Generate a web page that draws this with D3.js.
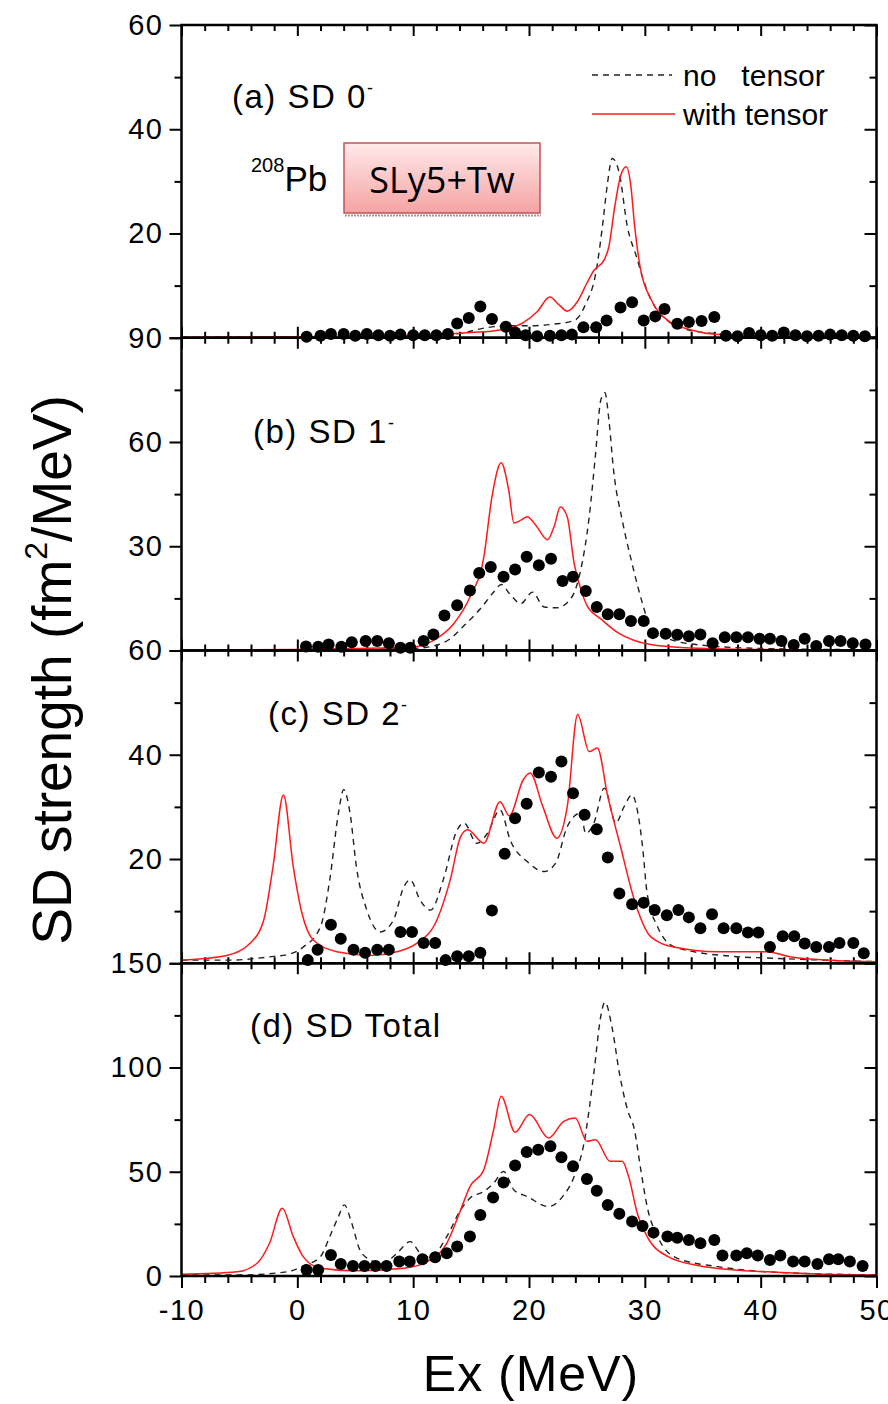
<!DOCTYPE html>
<html>
<head>
<meta charset="utf-8">
<script src="https://cdn.jsdelivr.net/npm/d3@7"></script>
<style>
  body { margin: 0; background: #fff; }
  text { font-family: "Liberation Sans", Arial, sans-serif; fill: #000; }
</style>
</head>
<body>
<script>
// x axis ticks (MeV)
let xMajor = [-10, 0, 10, 20, 30, 40, 50]
let xMinor = [-8, -6, -4, -2, 2, 4, 6, 8, 12, 14, 16, 18, 22, 24, 26, 28, 32, 34, 36, 38, 42, 44, 46, 48]

// (a) SD 0-
let redA = [[-10,0.1],[0,0.2],[10,0.4],[13,0.7],[15,1.0],[17.5,1.5],[19.5,2.9],[20.7,5.0],[21.8,7.8],[22.6,6.3],[23.3,5.1],[24.2,7.0],[25,10.5],[25.6,12.9],[26.5,15.0],[26.9,17.5],[27.4,25.1],[27.9,31.0],[28.4,32.8],[28.8,29.0],[29.1,21.9],[29.6,13.5],[30.6,7.1],[32,3.3],[34,1.5],[36.3,0.6],[40,0.3],[50,0.1]]
let dashA = [[-10,0.1],[0,0.2],[10,0.3],[14,0.8],[16,1.8],[18,2.3],[20,2.3],[22.1,2.6],[23.9,3.3],[24.9,6.5],[25.75,12.2],[26.4,22.5],[26.7,28.3],[27.2,34.4],[27.8,31.5],[28.5,21.2],[29.2,16.1],[30.2,9.0],[30.9,5.8],[32,3.2],[33,2.0],[36,0.8],[40,0.3],[50,0.1]]
let dotsA = [[0.8,0.2],[2,0.4],[2.9,0.7],[4,0.7],[5,0.4],[6,0.7],[7,0.5],[8,0.4],[8.9,0.6],[10,0.5],[11,0.5],[12,0.5],[13,0.7],[13.8,2.75],[14.8,3.8],[15.8,6.0],[16.8,3.6],[18,2.1],[18.8,1.0],[19.7,0.5],[20.7,0.3],[21.8,0.4],[22.8,0.5],[23.7,0.6],[24.7,2.0],[25.8,2.0],[26.7,3.3],[27.9,5.8],[28.9,6.8],[29.9,3.3],[30.9,4.1],[31.7,5.5],[32.8,2.7],[33.8,3.0],[34.9,3.2],[36,4.0],[37,0.4],[38,0.3],[39,0.9],[40,0.5],[41,0.4],[42,1.0],[43,0.5],[44,0.3],[45,0.4],[46,0.6],[47,0.5],[48,0.4],[49,0.3]]

// (b) SD 1-
let redB = [[-10,0.1],[0,0.3],[10,1.0],[11.75,2.9],[13.5,7.7],[14.9,15.4],[16.1,26.9],[16.8,44.2],[17.6,54],[18.25,46.1],[18.7,36.7],[19.3,37.5],[19.85,38.5],[20.6,36],[21.6,31.9],[22.2,36],[22.7,41.3],[23.3,38.5],[23.9,25],[24.5,17.3],[25,13],[26.2,9.1],[27.6,5.3],[29.1,2.9],[30.5,1.7],[33.4,0.8],[40,0.3],[50,0.1]]
let dashB = [[-10,0.1],[0,0.2],[10,0.6],[12,1.5],[13.2,3.4],[14.4,7.2],[15.8,12],[17,17],[17.6,19],[18.4,16],[19.3,13.5],[20.3,16.8],[21.3,12.5],[22.4,12.3],[23.7,15.4],[24.45,23],[25.2,38.5],[25.75,56.7],[26.2,72.1],[26.55,74.2],[26.9,66.3],[27.3,51.9],[28.05,37.5],[28.9,25],[29.8,13.5],[30.5,6.7],[32,3.4],[35,1.5],[40,0.6],[50,0.2]]
let dotsB = [[0.75,1.15],[1.8,1.1],[2.7,1.7],[3.8,1.1],[4.7,2.4],[5.9,2.7],[6.9,2.7],[7.9,2.1],[8.9,0.8],[9.75,0.8],[10.9,2.7],[11.75,4.6],[12.7,10.1],[13.8,13],[14.9,17.3],[15.7,22.3],[16.7,24],[17.8,21.2],[18.8,23.3],[19.8,27],[20.85,24.5],[21.9,26.4],[22.9,20],[23.8,21.2],[24.9,17.1],[25.85,12.5],[26.8,10.4],[27.8,10.4],[28.8,8.5],[29.9,8.5],[30.7,5.0],[31.8,4.8],[32.8,4.5],[33.8,4.1],[34.8,4.6],[35.85,2.1],[36.9,3.8],[37.9,3.8],[38.9,3.8],[39.9,3.4],[40.8,3.4],[41.8,2.7],[42.85,1.6],[43.8,3.4],[44.8,1.3],[45.9,2.7],[46.9,2.7],[47.95,2.1],[49.05,1.7]]

// (c) SD 2-
let redC = [[-10,0.6],[-6.1,1.5],[-4.1,3.8],[-2.9,8.3],[-2.1,18.5],[-1.2,32.3],[-0.35,18.5],[0.4,9.6],[1.4,4.4],[3.4,2.2],[6.3,1.5],[8.6,2.2],[10.3,3.8],[12.05,8.3],[13.2,16],[14.1,24.3],[14.7,25.6],[16.1,23],[17.5,31],[18.3,28.3],[19.5,35.2],[20.1,36.5],[21.2,30],[22.4,24],[23.3,30],[24.2,47.7],[25.2,40.6],[25.9,41.3],[26.8,32],[27.9,22.4],[29.1,12.1],[30.5,5.1],[32.5,3.1],[36.3,2.2],[40.6,2.2],[42.4,1.3],[46.6,0.5],[50,0.3]]
let dashC = [[-10,0.6],[-6,0.6],[-2.5,1.2],[-0.6,1.8],[0.5,3.1],[2,7],[2.8,16],[3.55,28.8],[4,33.3],[4.55,28.8],[5.1,18.5],[6,10.2],[7.15,6],[8.3,8.3],[9.2,14.7],[9.75,16],[10.6,12.1],[11.5,10.2],[12.6,16],[13.8,25.6],[14.4,26.9],[15.5,23],[16.4,24.9],[17.5,29.4],[18.4,23.5],[19.85,19.5],[21.3,17.6],[22.3,19.2],[23.3,26.2],[24.45,28.8],[24.9,24.9],[25.6,26.9],[26.5,33.6],[27.5,26.9],[28.2,30],[28.9,32.3],[29.4,28.8],[29.8,22.4],[30.2,13.4],[31.1,7],[32.6,3.1],[37.7,1.3],[40.6,1],[50,0.3]]
let dotsC = [[0.9,0.6],[1.75,2.6],[2.9,7.4],[3.75,4.7],[4.85,2.6],[5.85,2.0],[6.9,2.6],[7.9,2.6],[8.9,6.0],[9.9,6.0],[10.9,3.9],[11.9,3.9],[12.8,0.6],[13.8,1.35],[14.8,1.35],[15.8,2.0],[16.8,10.1],[17.9,21],[18.8,27.8],[19.8,30.6],[20.85,36.6],[21.9,35.8],[22.8,38.7],[23.8,32.6],[24.8,28.5],[25.85,25.7],[26.8,20.3],[27.8,13.4],[28.9,11.3],[29.9,11.6],[30.85,10.2],[31.9,9.2],[32.9,10.2],[33.8,8.8],[34.8,6.7],[35.8,9.4],[36.8,6.7],[37.9,6.7],[38.9,5.9],[39.8,5.9],[40.8,3.1],[41.9,5.2],[42.9,5.2],[43.8,3.8],[44.8,3.1],[45.9,3.1],[46.8,3.9],[48,3.9],[48.9,1.9]]

// (d) SD Total
let redD = [[-10,0.8],[-5.2,2],[-3.5,6],[-2.4,15.7],[-1.3,32.5],[-0.35,18.9],[0.5,9.3],[2,3.7],[5,2.5],[9.2,3.7],[11.5,7.7],[12.9,15.7],[14.1,31.7],[14.9,42.9],[16.1,51],[16.95,70.2],[17.6,86.2],[18.8,68.9],[20.05,77.4],[21.7,66.2],[23,74.2],[24,75.8],[25,64.6],[25.75,65.4],[27,55],[28.05,55],[28.6,47.7],[29.35,30.1],[30.2,18.9],[32,9.3],[34.8,4.8],[37.7,2.9],[40.6,2],[44.9,1],[50,0.5]]
let dashD = [[-10,0.5],[-5,0.5],[-0.9,2],[0.5,4.8],[2,9.3],[2.8,18.9],[3.55,28.5],[4.05,34.1],[4.7,25.3],[5.4,12.5],[6.3,7.7],[7.4,6],[8.6,10.9],[9.75,16.5],[10.6,11],[11.5,9],[12.9,18.9],[14.1,31.7],[14.9,37.3],[16.1,40.5],[16.95,44.5],[17.8,50.1],[18.7,41.3],[19.85,38.1],[21.7,33.3],[22.9,38.1],[23.9,47.7],[24.75,63.8],[25.6,97.4],[26.2,124.7],[26.55,131.4],[27.2,118.3],[27.8,97.4],[28.5,79.8],[29.1,70.2],[29.65,51],[30.2,33.3],[31.1,18.9],[32.8,8.5],[36.3,4.5],[40.6,2],[50,0.5]]
let dotsD = [[0.8,2.9],[1.8,2.9],[2.9,10.1],[3.75,5.8],[4.8,4.8],[5.8,4.8],[6.75,4.8],[7.7,4.8],[8.8,6.9],[9.7,6.9],[10.8,8],[11.9,9],[12.9,10.9],[13.8,14.1],[14.9,18.9],[15.8,29.3],[16.9,37.6],[17.8,44.9],[18.8,53],[19.8,59.5],[20.8,60.6],[21.85,62.2],[22.8,56.9],[23.8,52.6],[25,46.5],[25.85,40.9],[26.8,34.1],[27.8,29.8],[28.9,26.1],[29.8,24],[30.75,20.8],[31.95,18.9],[32.8,18.3],[33.8,17.3],[34.8,15.7],[36,17.3],[36.7,9.8],[37.9,9.8],[38.8,10.9],[39.75,9.8],[40.8,7.7],[41.7,9.8],[42.8,6.9],[43.8,6.9],[44.9,5.8],[45.9,8],[46.7,8],[47.7,6.9],[48.8,4.8]]

// y ticks per panel
let yMajorA = [0, 20, 40, 60], yMinorA = [10, 30, 50]
let yMajorB = [0, 30, 60, 90], yMinorB = [15, 45, 75]
let yMajorC = [0, 20, 40, 60], yMinorC = [10, 30, 50]
let yMajorD = [0, 50, 100, 150], yMinorD = [25, 75, 125]

let panelNames = ["(a) SD 0", "(b) SD 1", "(c) SD 2", "(d) SD Total"]
let panelSups = ["-", "-", "-", ""]

let panels = [
  {max: 60, major: yMajorA, minor: yMinorA, red: redA, dash: dashA, dots: dotsA, lx: 232, ly: 108},
  {max: 90, major: yMajorB, minor: yMinorB, red: redB, dash: dashB, dots: dotsB, lx: 253, ly: 443},
  {max: 60, major: yMajorC, minor: yMinorC, red: redC, dash: dashC, dots: dotsC, lx: 268, ly: 725},
  {max: 150, major: yMajorD, minor: yMinorD, red: redD, dash: dashD, dots: dotsD, lx: 250, ly: 1037}
]

let W = 888, H = 1404
let left = 181.5, right = 876.5, top0 = 25, ph = 312.75

let svg = d3.select("body").append("svg")
  .attr("width", W)
  .attr("height", H)

let x = d3.scaleLinear().domain([-10, 50]).range([left, right])

function styleAxis(sel, fs) {
  sel.select(".domain").remove()
  sel.selectAll(".tick line").attr("stroke", "#000").attr("stroke-width", 2)
  sel.selectAll(".tick text")
    .attr("font-size", fs)
    .attr("font-family", "Liberation Sans, Arial, sans-serif")
    .attr("letter-spacing", 1.5)
    .attr("fill", "#000")
}

panels.forEach((p, i) => {
  let t = top0 + i * ph
  let b = t + ph
  let y = d3.scaleLinear().domain([0, p.max]).range([b, t])
  let g = svg.append("g")

  // left ticks with labels; the 0 of the upper panels sits under the next panel's top label
  g.append("g").attr("transform", `translate(${left},0)`)
    .call(d3.axisLeft(y).tickValues(p.major).tickSize(12).tickPadding(6)
      .tickFormat(d => (i < 3 && d === 0) ? "" : String(d)))
    .call(s => styleAxis(s, 29))
  g.append("g").attr("transform", `translate(${left},0)`)
    .call(d3.axisLeft(y).tickValues(p.minor).tickSize(7).tickFormat(""))
    .call(s => styleAxis(s, 0))
  // right ticks point inward
  g.append("g").attr("transform", `translate(${right},0)`)
    .call(d3.axisRight(y).tickValues(p.major).tickSize(-12).tickFormat(""))
    .call(s => styleAxis(s, 0))
  g.append("g").attr("transform", `translate(${right},0)`)
    .call(d3.axisRight(y).tickValues(p.minor).tickSize(-7).tickFormat(""))
    .call(s => styleAxis(s, 0))
  // top ticks point down
  g.append("g").attr("transform", `translate(0,${t})`)
    .call(d3.axisTop(x).tickValues(xMajor).tickSize(-11).tickFormat(""))
    .call(s => styleAxis(s, 0))
  g.append("g").attr("transform", `translate(0,${t})`)
    .call(d3.axisTop(x).tickValues(xMinor).tickSize(-6).tickFormat(""))
    .call(s => styleAxis(s, 0))

  if (i < 3) {
    g.append("g").attr("transform", `translate(0,${b})`)
      .call(d3.axisBottom(x).tickValues(xMajor).tickSize(-11).tickFormat(""))
      .call(s => styleAxis(s, 0))
    g.append("g").attr("transform", `translate(0,${b})`)
      .call(d3.axisBottom(x).tickValues(xMinor).tickSize(-6).tickFormat(""))
      .call(s => styleAxis(s, 0))
  } else {
    g.append("g").attr("transform", `translate(0,${b})`)
      .call(d3.axisBottom(x).tickValues(xMajor).tickSize(12).tickPadding(11).tickFormat(d => String(d)))
      .call(s => styleAxis(s, 29))
    g.append("g").attr("transform", `translate(0,${b})`)
      .call(d3.axisBottom(x).tickValues(xMinor).tickSize(7).tickFormat(""))
      .call(s => styleAxis(s, 0))
  }

  let line = d3.line()
    .x(d => x(d[0]))
    .y(d => y(d[1]))
    .curve(d3.curveMonotoneX)

  g.append("path")
    .datum(p.dash)
    .attr("d", line)
    .attr("fill", "none")
    .attr("stroke", "#222")
    .attr("stroke-width", 1.4)
    .attr("stroke-dasharray", "6,5")

  g.append("path")
    .datum(p.red)
    .attr("d", line)
    .attr("fill", "none")
    .attr("stroke", "#ff1a1a")
    .attr("stroke-width", 1.5)

  g.selectAll("circle")
    .data(p.dots)
    .enter()
    .append("circle")
    .attr("cx", d => x(d[0]))
    .attr("cy", d => y(d[1]))
    .attr("r", 6)
    .attr("fill", "#000")

  // frame
  g.append("rect")
    .attr("x", left)
    .attr("y", t)
    .attr("width", right - left)
    .attr("height", ph)
    .attr("fill", "none")
    .attr("stroke", "#000")
    .attr("stroke-width", 2.5)

  // panel label
  let lab = g.append("text")
    .attr("x", p.lx)
    .attr("y", p.ly)
    .attr("font-size", 33)
    .attr("letter-spacing", 1.5)
    .text(panelNames[i])
  lab.append("tspan")
    .attr("dy", -14)
    .attr("font-size", 18)
    .text(panelSups[i])
})

// legend
svg.append("line")
  .attr("x1", 592).attr("x2", 672).attr("y1", 75).attr("y2", 75)
  .attr("stroke", "#222").attr("stroke-width", 1.4).attr("stroke-dasharray", "6,5")
svg.append("line")
  .attr("x1", 592).attr("x2", 675).attr("y1", 114).attr("y2", 114)
  .attr("stroke", "#ff1a1a").attr("stroke-width", 1.5)
svg.append("text")
  .attr("x", 683).attr("y", 86)
  .attr("font-size", 30)
  .style("white-space", "pre")
  .text("no   tensor")
svg.append("text")
  .attr("x", 683).attr("y", 125)
  .attr("font-size", 30)
  .text("with tensor")

// 208Pb
let pb = svg.append("text").attr("x", 251).attr("y", 191)
pb.append("tspan").attr("font-size", 20).attr("dy", -19).text("208")
pb.append("tspan").attr("font-size", 35).attr("dy", 19).text("Pb")

// SLy5+Tw box
let grad = svg.append("defs").append("linearGradient")
  .attr("id", "boxGrad")
  .attr("x1", 0).attr("y1", 0).attr("x2", 0).attr("y2", 1)
grad.append("stop").attr("offset", "0%").attr("stop-color", "#ffeaea")
grad.append("stop").attr("offset", "100%").attr("stop-color", "#f5a3a3")

svg.append("line")
  .attr("x1", 345).attr("x2", 541).attr("y1", 215.5).attr("y2", 215.5)
  .attr("stroke", "#999").attr("stroke-width", 2).attr("stroke-dasharray", "2,1")
svg.append("rect")
  .attr("x", 344).attr("y", 143)
  .attr("width", 196).attr("height", 70)
  .attr("fill", "url(#boxGrad)")
  .attr("stroke", "#c05555")
  .attr("stroke-width", 1.5)
svg.append("text")
  .attr("x", 442).attr("y", 193)
  .attr("text-anchor", "middle")
  .attr("font-size", 36)
  .style("font-family", "'Open Sans', 'Noto Sans', sans-serif")
  .text("SLy5+Tw")

// axis titles
let yt = svg.append("text")
  .attr("transform", "translate(71,670) rotate(-90)")
  .attr("text-anchor", "middle")
  .attr("font-size", 55)
  .text("SD strength (fm")
yt.append("tspan").attr("font-size", 32).attr("dy", -24).text("2")
yt.append("tspan").attr("dy", 24).text("/MeV)")

svg.append("text")
  .attr("x", 531).attr("y", 1391)
  .attr("text-anchor", "middle")
  .attr("font-size", 50)
  .attr("letter-spacing", 1)
  .text("Ex (MeV)")
</script>
</body>
</html>
